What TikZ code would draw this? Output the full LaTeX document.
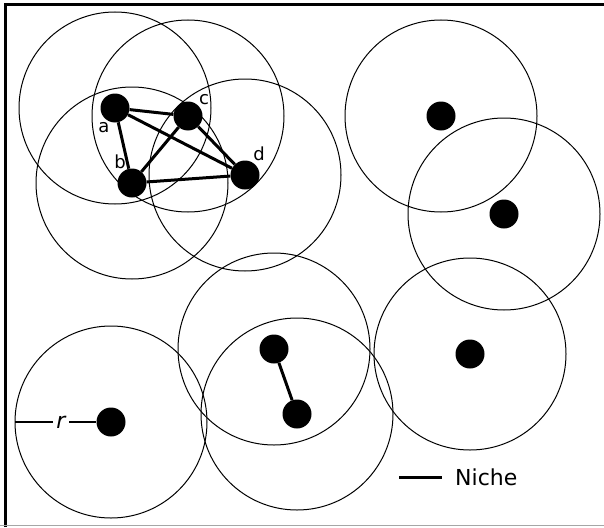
\documentclass[tikz,border=0pt]{standalone}
\usepackage{fontspec}
\setmainfont{DejaVu Sans}
\usetikzlibrary{positioning}

\begin{document}
\begin{tikzpicture}[
      x=1pt, y=-1pt,
      every node/.style={font=\fontsize{22}{24}\selectfont},
      dot/.style={circle, fill=black, inner sep=0pt, minimum size=29pt},
      niche/.style={draw, line width=1pt},
      link/.style={line width=3pt},
      tag/.style={font=\fontsize{18}{20}\selectfont, inner sep=1pt}
    ]
    \useasboundingbox (0,0) rectangle (604,527);

    % Frame
    \draw[line width=3pt] (5,527) -- (5,5) -- (604,5);
    \draw[gray!70, line width=1pt] (0,525.5) -- (604,525.5);

    % Individuals
    \node[dot] (a) at (115,108) {};
    \node[dot] (b) at (132,183) {};
    \node[dot] (c) at (188,116) {};
    \node[dot] (d) at (245,175) {};
    \node[dot] (e) at (441,116) {};
    \node[dot] (f) at (504,214) {};
    \node[dot] (g) at (470,354) {};
    \node[dot] (h) at (274,349) {};
    \node[dot] (i) at (297,414) {};
    \node[dot] (j) at (111,422) {};

    % Niches
    \foreach \n in {a,b,c,d,e,f,g,h,i,j}
      \draw[niche] (\n) circle (96);

    % Links
    \draw[link] (a) -- (b);
    \draw[link] (a) -- (c);
    \draw[link] (a) -- (d);
    \draw[link] (b) -- (c);
    \draw[link] (b) -- (d);
    \draw[link] (c) -- (d);
    \draw[link] (h) -- (i);

    % Labels
    \node[tag] at (104,128) {a};
    \node[tag] at (120,162) {b};
    \node[tag] at (204,100) {c};
    \node[tag] at (259,154) {d};

    % Radius
    \coordinate (rim) at (15,422);
    \node (rlabel) at (61,422) {\itshape r};
    \draw[line width=2pt] (rim) -- (rlabel.west);
    \draw[line width=2pt] (rlabel.east) -- (j);

    % Legend
    \coordinate (key) at (399,477);
    \node[anchor=west, inner sep=0pt] (nlabel) at (455,477) {Niche};
    \draw[line width=3pt] (key) -- ++(43,0);
\end{tikzpicture}
\end{document}
